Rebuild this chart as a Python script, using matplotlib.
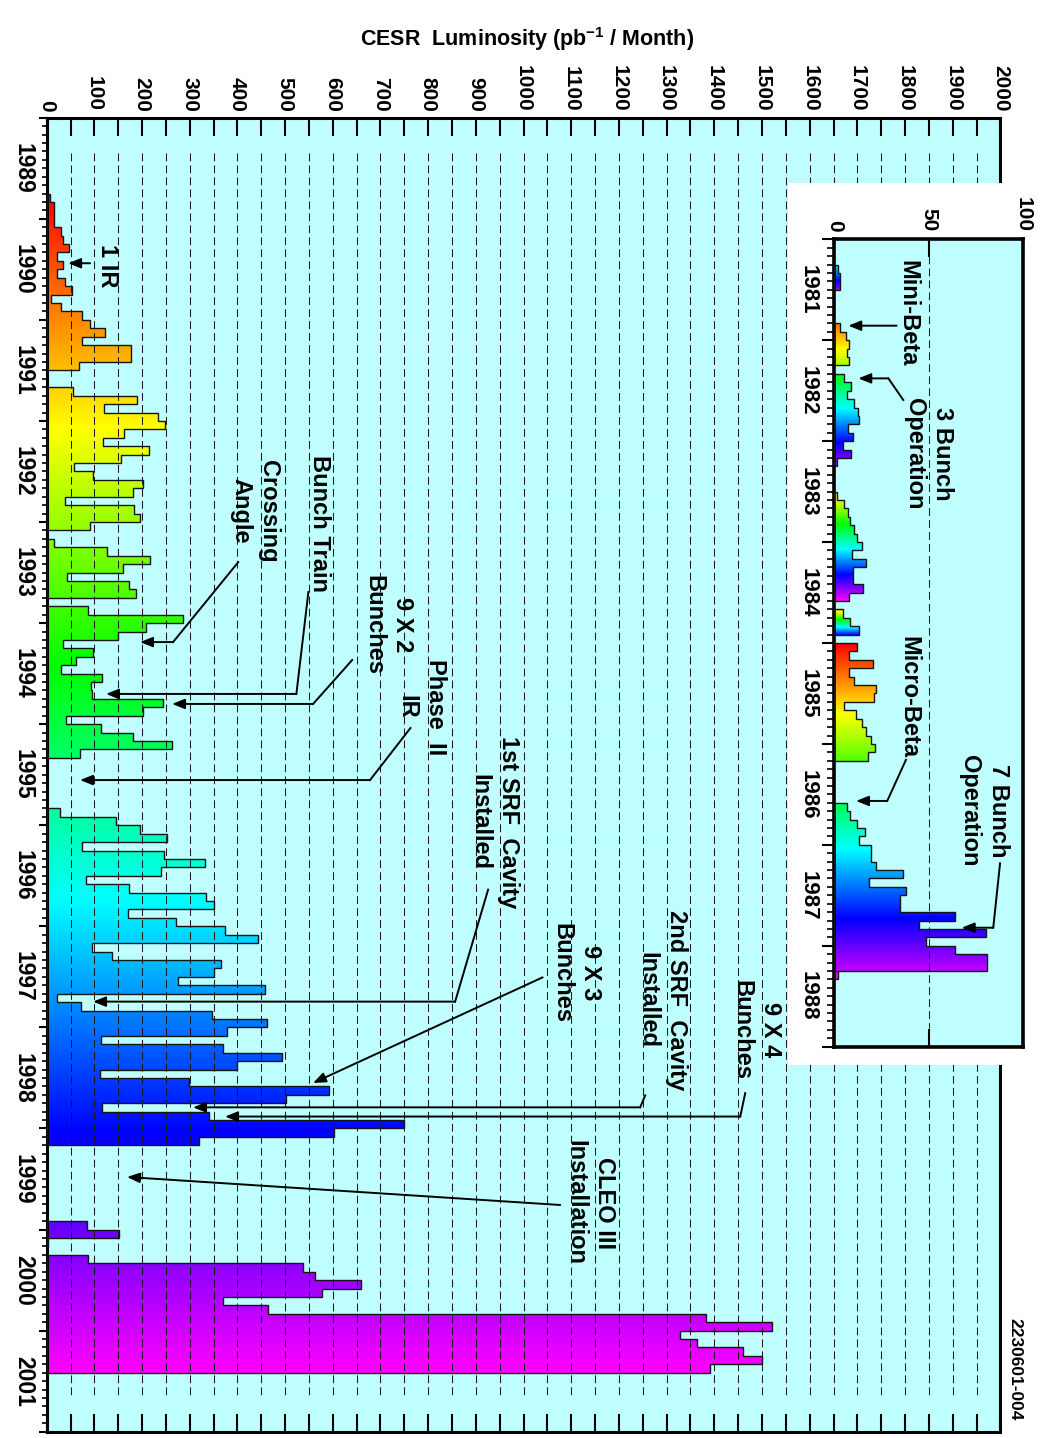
import colorsys

import numpy as np
import matplotlib
matplotlib.use('Agg')
import matplotlib.pyplot as plt
from matplotlib.patches import Polygon, Rectangle
from matplotlib.ticker import MultipleLocator

# Fonts: bold sans everywhere, mathtext in the same face for the pb^-1 title
plt.rcParams['font.family'] = ['Liberation Sans', 'DejaVu Sans']
plt.rcParams['font.weight'] = 'bold'
plt.rcParams['mathtext.fontset'] = 'custom'
plt.rcParams['mathtext.rm'] = 'Liberation Sans:bold'
plt.rcParams['mathtext.bf'] = 'Liberation Sans:bold'
plt.rcParams['axes.linewidth'] = 2.2

# ------------------------- CESR luminosity per month, pb^-1 (1989 - 2001) -------------------------
# every run: first month (year, month) and monthly values
run1_start = (1989, 10)
run1 = [6, 15, 15, 15, 31, 35, 47, 21, 35, 22, 38, 54, 8, 31, 73, 91, 122, 75, 176, 176, 68]

run2_start = (1991, 9)
run2 = [56, 190, 121, 233, 248, 163, 119, 215, 156, 57, 98, 201, 180, 38, 184, 196, 90]

run3_start = (1993, 3)
run3 = [15, 126, 217, 159, 42, 173, 187]

run4_start = (1993, 11)
run4 = [86, 285, 208, 150, 35, 98, 61, 31, 117, 92, 96, 243, 201, 40, 114, 180, 262, 70]

run5_start = (1995, 11)
run5 = [28, 145, 196, 253, 75, 245, 332, 239, 83, 173, 334, 351, 170, 271, 373, 444,
        94, 136, 366, 351, 275, 457, 22, 71, 346, 463, 378, 114, 369, 494, 400, 112,
        299, 591, 501, 115, 341, 750, 603, 320]

run6_start = (1999, 12)
run6 = [85, 152, 3]

run7_start = (2000, 4)
run7 = [87, 537, 562, 659, 578, 369, 465, 1383, 1521, 1328, 1363, 1460, 1500, 1390]

MAIN_RUNS = [(run1_start, run1), (run2_start, run2), (run3_start, run3), (run4_start, run4),
             (run5_start, run5), (run6_start, run6), (run7_start, run7)]

# ------------------------- early years for the inset (1981 - 1988) -------------------------
early1_start = (1981, 4)
early1 = [2, 3, 3]
early2_start = (1981, 11)
early2 = [3, 6, 8, 6.5, 8]
early3_start = (1982, 5)
early3 = [5, 8.7, 6.5, 10.4, 12.4, 13, 7, 10, 4.4, 8.7, 1.6]
early4_start = (1983, 7)
early4 = [1.6, 5, 7, 8.5, 10.5, 12, 14.8, 9.5, 16.8, 10, 10, 15.3, 8]
early5_start = (1984, 9)
early5 = [4.5, 8.5, 13]
early6_start = (1985, 1)
early6 = [11.8, 7.8, 20.3, 7.8, 10.4, 22, 21, 5.3, 11.5, 14.6, 16.9, 19.4, 21.7, 17.7]
early7_start = (1986, 8)
early7 = [6.5, 8.5, 12, 16.5, 13, 19.5, 19.5, 22, 36.5, 18.5, 38, 35, 35, 64, 45, 80,
          48.5, 64, 81, 81]
early8_start = (1988, 4)
early8 = [2]

INSET_RUNS = [(early1_start, early1), (early2_start, early2), (early3_start, early3),
              (early4_start, early4), (early5_start, early5), (early6_start, early6),
              (early7_start, early7), (early8_start, early8)]
# rainbow range (degrees of hue) used for each early run
INSET_HUES = [(180, 275), (25, 80), (120, 280), (45, 300), (40, 240), (0, 100), (140, 285), (300, 300)]

BG = '#bfffff'


def month_edges(start, n):
    t0 = start[0] + (start[1] - 1) / 12
    return t0 + np.arange(n + 1) / 12


def main_hue(t):
    # red at the first month of 1989 running, magenta at the end of 2001
    return float(np.clip(300 * (t - 1989.76) / 11.62, 0, 300))


def draw_run(ax, start, values, hue0, hue1):
    """Step histogram of one run, filled with a vertical rainbow gradient"""
    edges = month_edges(start, len(values))
    verts = [(0, edges[0])]
    for v, a, b in zip(values, edges[:-1], edges[1:]):
        verts += [(v, a), (v, b)]
    verts.append((0, edges[-1]))
    outline = Polygon(verts, closed=True, facecolor='none', edgecolor='#151515', lw=1.0, zorder=3)
    ax.add_patch(outline)
    hues = np.linspace(hue0, hue1, 128) / 360
    grad = np.array([[colorsys.hsv_to_rgb(h, 1, 1)] for h in hues])
    im = ax.imshow(grad, extent=(0, max(values), edges[-1], edges[0]), aspect='auto',
                   interpolation='bilinear', zorder=2)
    im.set_clip_path(outline)


def label(ax, x, y, s, size=17):
    ax.text(x, y, s, rotation=-90, ha='center', va='center', fontsize=size,
            linespacing=1.3, multialignment='center', zorder=6)


def arrow(ax, pts, lw=1.4):
    if len(pts) > 2:
        xs, ys = zip(*pts[:-1])
        ax.plot(xs, ys, color='black', lw=lw, zorder=6)
    ax.annotate('', xy=pts[-1], xytext=pts[-2], zorder=6,
                arrowprops=dict(arrowstyle='-|>,head_length=0.75,head_width=0.3', mutation_scale=10,
                                color='black', lw=lw, shrinkA=0, shrinkB=0))


fig = plt.figure(figsize=(10.45, 14.38), dpi=100)

# ------------------------------------- main chart -------------------------------------
ax = fig.add_axes([46.7 / 1045, 6.3 / 1438, 953.7 / 1045, 1314 / 1438])
ax.set_facecolor(BG)

for start, values in MAIN_RUNS:
    edges = month_edges(start, len(values))
    draw_run(ax, start, values, main_hue(edges[0]), main_hue(edges[-1]))

ax.vlines(np.arange(50, 2000, 50), 1989.35, 2001.67, colors='#1a1a1a', lw=0.75,
          linestyles=(0, (7.5, 4)), zorder=4)

ax.set_xlim(0, 2000)
ax.set_ylim(2002, 1989)

ax.xaxis.set_major_locator(MultipleLocator(100))
ax.xaxis.set_minor_locator(MultipleLocator(50))
ax.tick_params(axis='x', which='both', direction='in', length=13, width=1.5,
               top=True, bottom=True, labeltop=True, labelbottom=False)
ax.tick_params(axis='x', which='major', labelrotation=-90, labelsize=15, pad=4.5)

ax.yaxis.set_major_locator(MultipleLocator(1))
ax.yaxis.set_minor_locator(MultipleLocator(1 / 12))
ax.tick_params(axis='y', which='major', direction='out', length=6, width=1.5, labelleft=False, right=False)
ax.tick_params(axis='y', which='minor', direction='out', length=3.5, width=1.2, right=False)

for yr in range(1989, 2002):
    ax.text(-0.0245, yr + 0.5, str(yr), transform=ax.get_yaxis_transform(), rotation=-90,
            ha='center', va='center', fontsize=16.5, clip_on=False)

# notes on machine upgrades
label(ax, 127, 1990.467, '1 IR')
arrow(ax, [(91, 1990.44), (45, 1990.44)])

label(ax, 436, 1992.89, 'Crossing\nAngle')
arrow(ax, [(401.7, 1993.397), (265.0, 1994.188), (195.7, 1994.188)])

label(ax, 573, 1993.01, 'Bunch Train')
arrow(ax, [(548.8, 1993.692), (523.6, 1994.701), (124.4, 1994.701)])

label(ax, 716, 1994.02, '9 X 2\nBunches')
arrow(ax, [(640.7, 1994.365), (558.6, 1994.8), (262.9, 1994.8)])

label(ax, 785, 1994.83, 'Phase  II\nIR')
arrow(ax, [(762.9, 1995.038), (678.1, 1995.553), (69.9, 1995.553)])

label(ax, 938.6, 1995.968, '1st SRF  Cavity\nInstalled')
arrow(ax, [(925.7, 1996.637), (856.5, 1997.745), (97.2, 1997.745)])

label(ax, 1110.4, 1997.462, '9 X 3\nBunches')
arrow(ax, [(1040, 1997.505), (558.6, 1998.55)])

label(ax, 1290.7, 1997.729, '2nd SRF  Cavity\nInstalled')
arrow(ax, [(1255, 1998.673), (1244.6, 1998.791), (306.9, 1998.791)])

label(ax, 1487.9, 1998.026, '9 X 4\nBunches')
arrow(ax, [(1464.9, 1998.65), (1454.4, 1998.882), (374, 1998.882)])

label(ax, 1139.7, 1999.737, 'CLEO III\nInstallation')
arrow(ax, [(1076.8, 1999.757), (168.5, 1999.48)])

fig.text(527 / 1045, 1 - 39 / 1438, r'CESR  Luminosity (pb$^{\mathbf{-1}}$ / Month)',
         ha='center', va='center', fontsize=15.5)
fig.text(1015 / 1045, 1 - 1369 / 1438, '2230601-004', rotation=-90, ha='center', va='center',
         fontsize=12.5)

# white panel under the inset
fig.add_artist(Rectangle((788 / 1045, (1438 - 1065) / 1438), (1045 - 788) / 1045, (1065 - 183) / 1438,
                         transform=fig.transFigure, facecolor='white', edgecolor='none', zorder=1))

# ------------------------------------- inset: 1981 - 1988 -------------------------------------
ax2 = fig.add_axes([834.3 / 1045, (1438 - 1046.7) / 1438, 189 / 1045, 807.4 / 1438])
ax2.set_zorder(2)
ax2.set_facecolor(BG)
for spine in ax2.spines.values():
    spine.set_linewidth(2.6)

for (start, values), (h0, h1) in zip(INSET_RUNS, INSET_HUES):
    draw_run(ax2, start, values, h0, h1)

ax2.vlines([50], 1981.17, 1988.81, colors='#1a1a1a', lw=0.75, linestyles=(0, (7.5, 4)), zorder=4)

ax2.set_xlim(0, 100)
ax2.set_ylim(1989, 1981)
ax2.set_xticks([0, 50, 100])
ax2.tick_params(axis='x', direction='in', length=13, width=1.5, top=True, bottom=True,
                labeltop=True, labelbottom=False, labelrotation=-90, labelsize=15, pad=5.5)
ax2.yaxis.set_major_locator(MultipleLocator(1))
ax2.yaxis.set_minor_locator(MultipleLocator(1 / 12))
ax2.tick_params(axis='y', which='major', direction='out', length=8.5, width=1.5, labelleft=False, right=False)
ax2.tick_params(axis='y', which='minor', direction='out', length=5, width=1.2, right=False)

for yr in range(1981, 1989):
    ax2.text(-0.139, yr + 0.5, str(yr), transform=ax2.get_yaxis_transform(), rotation=-90,
             ha='center', va='center', fontsize=16, clip_on=False)

label(ax2, 39, 1981.73, 'Mini-Beta')
arrow(ax2, [(33, 1981.856), (7.4, 1981.856)])

label(ax2, 50, 1983.127, '3 Bunch\nOperation')
arrow(ax2, [(36.5, 1982.592), (28.6, 1982.378), (12.7, 1982.378)])

label(ax2, 39.4, 1985.54, 'Micro-Beta')
arrow(ax2, [(37.9, 1986.158), (28.0, 1986.565), (11.5, 1986.565)])

label(ax2, 79.2, 1986.664, '7 Bunch\nOperation')
arrow(ax2, [(87.7, 1987.183), (84.1, 1987.821), (67.4, 1987.821)])

fig.savefig('out.png', dpi=100)
